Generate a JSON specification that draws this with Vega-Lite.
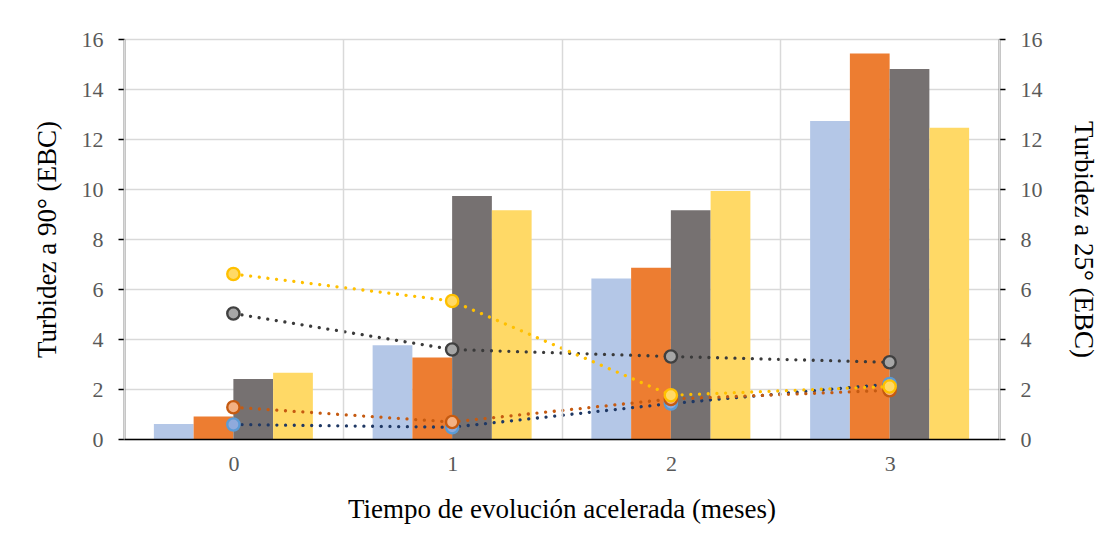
{
  "$schema": "https://vega.github.io/schema/vega-lite/v6.json",
  "width": 875,
  "height": 400,
  "autosize": "none",
  "padding": {"left": 124, "top": 39, "right": 103, "bottom": 105},
  "background": "white",
  "config": {
    "font": "Liberation Serif",
    "view": {"stroke": null}
  },
  "data": {
    "values": [
      {"mes": 0, "muestra": "A", "t90": 0.6, "t25": 0.58},
      {"mes": 0, "muestra": "B", "t90": 0.9, "t25": 1.27},
      {"mes": 0, "muestra": "C", "t90": 2.4, "t25": 5.02},
      {"mes": 0, "muestra": "D", "t90": 2.65, "t25": 6.6},
      {"mes": 1, "muestra": "A", "t90": 3.75, "t25": 0.47},
      {"mes": 1, "muestra": "B", "t90": 3.26, "t25": 0.68},
      {"mes": 1, "muestra": "C", "t90": 9.72, "t25": 3.58},
      {"mes": 1, "muestra": "D", "t90": 9.15, "t25": 5.52},
      {"mes": 2, "muestra": "A", "t90": 6.42, "t25": 1.42},
      {"mes": 2, "muestra": "B", "t90": 6.85, "t25": 1.6},
      {"mes": 2, "muestra": "C", "t90": 9.15, "t25": 3.3},
      {"mes": 2, "muestra": "D", "t90": 9.92, "t25": 1.75},
      {"mes": 3, "muestra": "A", "t90": 12.72, "t25": 2.2},
      {"mes": 3, "muestra": "B", "t90": 15.42, "t25": 1.95},
      {"mes": 3, "muestra": "C", "t90": 14.8, "t25": 3.07},
      {"mes": 3, "muestra": "D", "t90": 12.45, "t25": 2.1}
    ]
  },
  "encoding": {
    "x": {
      "field": "mes",
      "type": "ordinal",
      "scale": {"paddingInner": 0, "paddingOuter": 0},
      "axis": {
        "title": "Tiempo de evolución acelerada (meses)",
        "titleFontSize": 27,
        "titleFontWeight": "normal",
        "titleColor": "#000000",
        "titlePadding": 22,
        "labelAngle": 0,
        "labelFontSize": 22,
        "labelColor": "#595959",
        "labelPadding": 14,
        "ticks": false,
        "tickBand": "extent",
        "grid": true,
        "gridColor": "#D9D9D9",
        "gridWidth": 1.5,
        "domainColor": "#000000",
        "domainWidth": 1.5,
        "zindex": 1
      }
    }
  },
  "layer": [
    {
      "mark": {"type": "bar"},
      "encoding": {
        "xOffset": {"field": "muestra", "type": "nominal", "scale": {"paddingInner": 0, "paddingOuter": 0.7516}},
        "y": {
          "field": "t90",
          "type": "quantitative",
          "scale": {"domain": [0, 16]},
          "axis": {
            "orient": "left",
            "values": [0, 2, 4, 6, 8, 10, 12, 14, 16],
            "title": "Turbidez a 90° (EBC)",
            "titleFontSize": 27,
            "titleFontWeight": "normal",
            "titleColor": "#000000",
            "titlePadding": 20,
            "labelFontSize": 22,
            "labelColor": "#595959",
            "labelPadding": 15,
            "tickSize": 6,
            "tickColor": "#000000",
            "tickWidth": 1.5,
            "domainColor": "#000000",
            "domainWidth": 1.5,
            "grid": true,
            "gridColor": "#D9D9D9",
            "gridWidth": 1.5
          }
        },
        "color": {
          "field": "muestra",
          "type": "nominal",
          "scale": {"domain": ["A", "B", "C", "D"], "range": ["#B4C7E7", "#ED7D31", "#767171", "#FFD966"]},
          "legend": null
        }
      }
    },
    {
      "encoding": {
        "y": {
          "field": "t25",
          "type": "quantitative",
          "scale": {"domain": [0, 16]},
          "axis": {
            "orient": "right",
            "values": [0, 2, 4, 6, 8, 10, 12, 14, 16],
            "title": "Turbidez a 25° (EBC)",
            "titleFontSize": 27,
            "titleFontWeight": "normal",
            "titleColor": "#000000",
            "titlePadding": 26,
            "labelFontSize": 22,
            "labelColor": "#595959",
            "labelPadding": 15,
            "tickSize": 6,
            "tickColor": "#000000",
            "tickWidth": 1.5,
            "domainColor": "#000000",
            "domainWidth": 1.5,
            "grid": false
          }
        }
      },
      "layer": [
        {
          "mark": {"type": "line", "strokeWidth": 3.3, "strokeDash": [0.001, 8.7], "strokeCap": "round"},
          "encoding": {
            "color": {
              "field": "muestra",
              "type": "nominal",
              "scale": {"domain": ["A", "B", "C", "D"], "range": ["#1F3864", "#C55A11", "#3A3A3A", "#FFC000"]},
              "legend": null
            }
          }
        },
        {
          "mark": {"type": "point", "shape": "circle", "filled": true, "size": 150, "strokeWidth": 2.4, "opacity": 1},
          "encoding": {
            "fill": {
              "field": "muestra",
              "type": "nominal",
              "scale": {"domain": ["A", "B", "C", "D"], "range": ["#8FAADC", "#F4B183", "#A6A6A6", "#FFD966"]},
              "legend": null
            },
            "stroke": {
              "field": "muestra",
              "type": "nominal",
              "scale": {"domain": ["A", "B", "C", "D"], "range": ["#5B9BD5", "#C55A11", "#404040", "#FFC000"]},
              "legend": null
            }
          }
        }
      ]
    }
  ],
  "resolve": {"scale": {"y": "independent", "color": "independent"}}
}
